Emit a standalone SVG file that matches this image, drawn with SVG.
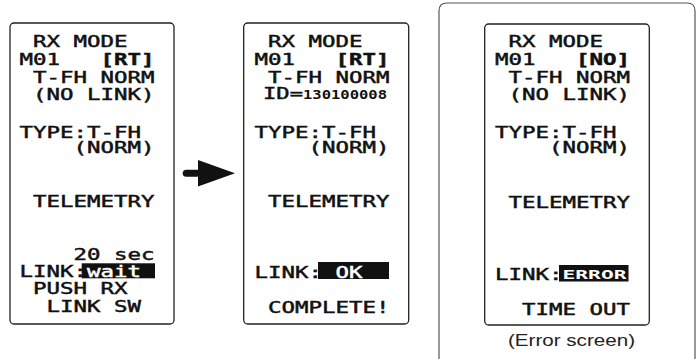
<svg xmlns="http://www.w3.org/2000/svg" width="697" height="359" viewBox="0 0 697 359">
<style>
.scr{fill:#fff;stroke:#222;stroke-width:1.3}
.lcd{font-family:"DejaVu Sans Mono","Liberation Mono",monospace;font-size:15.5px;fill:#111;stroke:#111;stroke-width:0.45}
.w{fill:#fff;stroke:#fff}
.num{font-family:"DejaVu Sans Mono","Liberation Mono",monospace;font-size:12.5px;font-weight:bold;fill:#111}
.err{font-family:"DejaVu Sans Mono","Liberation Mono",monospace;font-size:13px;font-weight:bold;fill:#fff}
.cap{font-family:"Liberation Sans",Arial,sans-serif;font-size:17px;fill:#222}
.inv{fill:#111}
</style>
<rect width="697" height="359" fill="#fff"/>
<g id="screen-wait">
<rect class="scr" x="10" y="23" width="164" height="301" rx="4"/>
<text class="lcd" x="33" y="47" textLength="94.5" lengthAdjust="spacingAndGlyphs">RX MODE</text>
<text class="lcd" x="19.5" y="64.5" textLength="40.5" lengthAdjust="spacingAndGlyphs">M01</text>
<text class="lcd" x="100.5" y="64.5" textLength="54" lengthAdjust="spacingAndGlyphs" font-weight="bold">[RT]</text>
<text class="lcd" x="33" y="82.5" textLength="121.5" lengthAdjust="spacingAndGlyphs">T-FH NORM</text>
<text class="lcd" x="33" y="100" textLength="121.5" lengthAdjust="spacingAndGlyphs">(NO LINK)</text>
<text class="lcd" x="19.5" y="137.5" textLength="121.5" lengthAdjust="spacingAndGlyphs">TYPE:T-FH</text>
<text class="lcd" x="73.5" y="153" textLength="81" lengthAdjust="spacingAndGlyphs">(NORM)</text>
<text class="lcd" x="33" y="207" textLength="121.5" lengthAdjust="spacingAndGlyphs">TELEMETRY</text>
<text class="lcd" x="73.5" y="260" textLength="81" lengthAdjust="spacingAndGlyphs">20 sec</text>
<text class="lcd" x="19.5" y="277" textLength="67.5" lengthAdjust="spacingAndGlyphs">LINK:</text>
<rect class="inv" x="81.7" y="263.3" width="73.3" height="15"/>
<text class="lcd w" x="87" y="277" textLength="54" lengthAdjust="spacingAndGlyphs">wait</text>
<text class="lcd" x="33" y="293.5" textLength="94.5" lengthAdjust="spacingAndGlyphs">PUSH RX</text>
<text class="lcd" x="46.5" y="311.5" textLength="94.5" lengthAdjust="spacingAndGlyphs">LINK SW</text>
</g>
<g id="screen-ok">
<rect class="scr" x="243.7" y="23" width="165" height="301" rx="4"/>
<text class="lcd" x="268" y="47" textLength="94.5" lengthAdjust="spacingAndGlyphs">RX MODE</text>
<text class="lcd" x="254.5" y="64.5" textLength="40.5" lengthAdjust="spacingAndGlyphs">M01</text>
<text class="lcd" x="335.5" y="64.5" textLength="54" lengthAdjust="spacingAndGlyphs" font-weight="bold">[RT]</text>
<text class="lcd" x="268" y="82.5" textLength="121.5" lengthAdjust="spacingAndGlyphs">T-FH NORM</text>
<text class="lcd" x="263" y="98.5" textLength="40" lengthAdjust="spacingAndGlyphs">ID=</text>
<text class="num" x="303" y="98.5" textLength="84" lengthAdjust="spacingAndGlyphs">130100008</text>
<text class="lcd" x="254.5" y="137.5" textLength="121.5" lengthAdjust="spacingAndGlyphs">TYPE:T-FH</text>
<text class="lcd" x="308.5" y="153" textLength="81" lengthAdjust="spacingAndGlyphs">(NORM)</text>
<text class="lcd" x="268" y="207" textLength="121.5" lengthAdjust="spacingAndGlyphs">TELEMETRY</text>
<text class="lcd" x="254.5" y="277.5" textLength="67.5" lengthAdjust="spacingAndGlyphs">LINK:</text>
<rect class="inv" x="318" y="262" width="71" height="17"/>
<text class="lcd w" x="335.5" y="277.5" textLength="27" lengthAdjust="spacingAndGlyphs">OK</text>
<text class="lcd" x="268" y="312.5" textLength="121.5" lengthAdjust="spacingAndGlyphs">COMPLETE!</text>
</g>
<g id="error-frame">
<path d="M439,359 V11 Q439,3 447,3 H687 Q695,3 695,11 V359" fill="none" stroke="#555" stroke-width="1.2"/>
</g>
<g id="screen-error">
<rect class="scr" x="484.7" y="24" width="164.6" height="301" rx="4"/>
<text class="lcd" x="508.5" y="47" textLength="94.5" lengthAdjust="spacingAndGlyphs">RX MODE</text>
<text class="lcd" x="495" y="64.5" textLength="40.5" lengthAdjust="spacingAndGlyphs">M01</text>
<text class="lcd" x="576" y="64.5" textLength="54" lengthAdjust="spacingAndGlyphs" font-weight="bold">[NO]</text>
<text class="lcd" x="508.5" y="82.5" textLength="121.5" lengthAdjust="spacingAndGlyphs">T-FH NORM</text>
<text class="lcd" x="508.5" y="100" textLength="121.5" lengthAdjust="spacingAndGlyphs">(NO LINK)</text>
<text class="lcd" x="495" y="137.5" textLength="121.5" lengthAdjust="spacingAndGlyphs">TYPE:T-FH</text>
<text class="lcd" x="549" y="153" textLength="81" lengthAdjust="spacingAndGlyphs">(NORM)</text>
<text class="lcd" x="508.5" y="207.5" textLength="121.5" lengthAdjust="spacingAndGlyphs">TELEMETRY</text>
<text class="lcd" x="495" y="279.5" textLength="67.5" lengthAdjust="spacingAndGlyphs">LINK:</text>
<rect class="inv" x="559" y="265" width="69.5" height="16.5"/>
<text class="err" x="562.5" y="278.5" textLength="64" lengthAdjust="spacingAndGlyphs">ERROR</text>
<text class="lcd" x="522" y="315" textLength="108" lengthAdjust="spacingAndGlyphs">TIME OUT</text>
</g>
<g id="caption">
<text class="cap" x="508" y="345.5" textLength="127" lengthAdjust="spacingAndGlyphs">(Error screen)</text>
</g>
<g id="connectors">
<rect x="182.7" y="169.8" width="18" height="7" rx="3.5" fill="#111"/>
<polygon points="198,160 235,173.3 198,186.5" fill="#111"/>
</g>
</svg>
